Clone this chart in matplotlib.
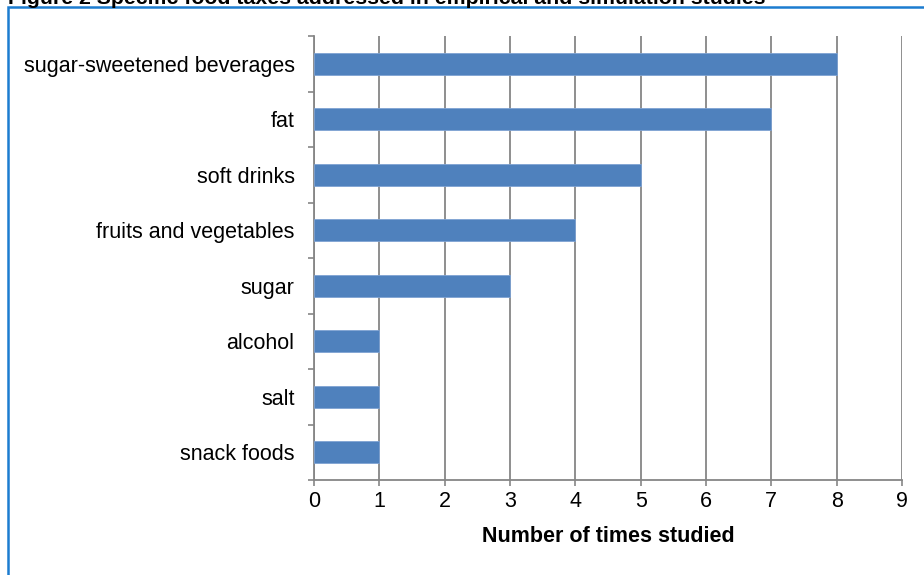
import matplotlib.pyplot as plt
from matplotlib.patches import Rectangle
import numpy as np

plt.rcParams['font.family'] = ['Liberation Sans', 'DejaVu Sans']

categories = ['sugar-sweetened beverages', 'fat', 'soft drinks', 'fruits and vegetables',
              'sugar', 'alcohol', 'salt', 'snack foods']
counts = [8, 7, 5, 4, 3, 1, 1, 1]
x_ticks = list(range(0, 10))

fig = plt.figure(figsize=(9.24, 5.75), dpi=100)
ax = fig.add_axes([314 / 924, 1 - 480 / 575, 588 / 924, 444 / 575])

y = np.arange(len(categories))[::-1]
ax.barh(y, counts, height=0.4, color='#4F81BD', edgecolor='#7FA3D3', linewidth=0.6, zorder=3)

ax.set_xlim(0, 9)
ax.set_ylim(-0.5, len(categories) - 0.5)
ax.set_xticks(x_ticks)
ax.set_yticks(y)
ax.set_yticklabels(categories)
ax.set_yticks(np.arange(-0.5, len(categories)), minor=True)

ax.tick_params(axis='y', which='major', length=0, pad=14, labelsize=15.5)
ax.tick_params(axis='y', which='minor', length=4, width=1.2, color='#868686', direction='out')
ax.tick_params(axis='x', length=4, width=1.2, color='#868686', direction='out', pad=4, labelsize=15.5)

ax.grid(axis='x', color='#868686', linewidth=1.3, zorder=0)
for side in ['top', 'right']:
    ax.spines[side].set_visible(False)
for side in ['left', 'bottom']:
    ax.spines[side].set_color('#868686')
    ax.spines[side].set_linewidth(1.3)

ax.set_xlabel('Number of times studied', fontsize=15.5, fontweight='bold', labelpad=10)

# outer frame around the figure panel
fig.patches.append(Rectangle((8 / 924, -0.05), 1.0, 1 - 7 / 575 + 0.05, transform=fig.transFigure,
                             fill=False, edgecolor='#1C7CD0', linewidth=1.8))
fig.text(8 / 924, 1 - 4 / 575, 'Figure 2 Specific food taxes addressed in empirical and simulation studies',
         fontsize=15.3, fontweight='bold', va='baseline', ha='left')

fig.savefig('out.png', dpi=100)
